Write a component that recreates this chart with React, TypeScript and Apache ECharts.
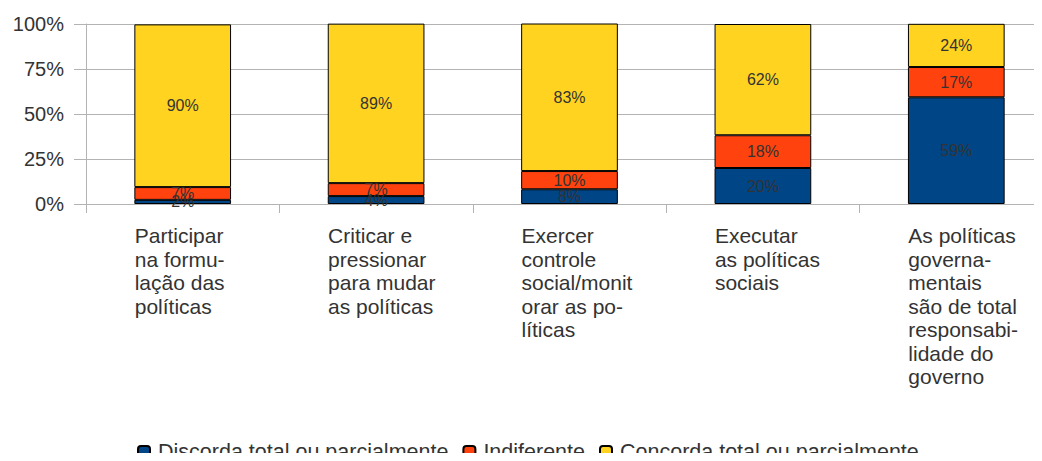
import React, { useEffect, useRef } from "react";
import * as echarts from "echarts";

const categories = [
  "Participar\nna formu-\nlação das\npolíticas",
  "Criticar e\npressionar\npara mudar\nas políticas",
  "Exercer\ncontrole\nsocial/monit\norar as po-\nlíticas",
  "Executar\nas políticas\nsociais",
  "As políticas\ngoverna-\nmentais\nsão de total\nresponsabi-\nlidade do\ngoverno",
];
const seriesNames = ["Discorda total ou parcialmente", "Indiferente", "Concorda total ou parcialmente"];
const discorda = [2.3, 4.4, 8.2, 20, 59.3];
const indiferente = [7.1, 7.2, 10.1, 18.2, 16.8];
const concorda = [90.4, 88.6, 82.5, 61.8, 24];
const yTicks = [0, 25, 50, 75, 100];
const colors = ["#004586", "#ff420e", "#ffd320"];

export default function App() {
  const ref = useRef<HTMLDivElement>(null);
  useEffect(() => {
    if (!ref.current) return;
    const chart = echarts.init(ref.current, undefined, { renderer: "svg" });
    const font = "'Liberation Sans', Arial, sans-serif";
    const values = [discorda, indiferente, concorda];
    chart.setOption({
      animation: false,
      textStyle: { fontFamily: font },
      grid: {
        left: 86,
        width: 967,
        top: 24,
        height: 180,
        containLabel: false,
        outerBoundsMode: "none",
      },
      legend: {
        data: seriesNames,
        left: 137,
        top: 441,
        padding: 0,
        itemWidth: 12,
        itemHeight: 12,
        itemGap: 14,
        textStyle: { fontSize: 21.5, color: "#333333", fontFamily: font, padding: [0, 0, 0, 3] },
      },
      xAxis: {
        type: "category",
        data: categories,
        boundaryGap: true,
        axisLine: { lineStyle: { color: "#b3b3b3" } },
        axisTick: { show: true, length: 9, lineStyle: { color: "#b3b3b3" } },
        axisLabel: {
          interval: 0,
          margin: 20,
          align: "center",
          formatter: (v: string) => v.split("\n").map((l) => "{a|" + l + "}").join("\n"),
          rich: {
            a: {
              width: 96,
              align: "left",
              fontSize: 21,
              lineHeight: 23.5,
              color: "#333333",
              fontFamily: font,
            },
          },
        },
      },
      yAxis: {
        type: "value",
        min: 0,
        max: 100,
        interval: 25,
        axisLine: { show: true, lineStyle: { color: "#b3b3b3" } },
        axisTick: { show: true, length: 12, lineStyle: { color: "#b3b3b3" } },
        splitLine: { show: true, lineStyle: { color: "#b3b3b3" } },
        axisLabel: {
          margin: 22,
          fontSize: 20,
          color: "#333333",
          fontFamily: font,
          formatter: (v: number) => (yTicks.includes(v) ? v + "%" : ""),
        },
      },
      series: seriesNames.map((name, i) => ({
        name,
        type: "bar",
        stack: "total",
        barWidth: "50%",
        data: values[i],
        itemStyle: { color: colors[i], borderColor: "#000000", borderWidth: 1 },
        label: {
          show: true,
          position: "inside",
          fontSize: 16,
          color: "#333333",
          fontFamily: font,
          formatter: (p: any) => Math.round(p.value) + "%",
        },
      })),
    });
    return () => chart.dispose();
  }, []);
  return <div ref={ref} style={{ width: 1042, height: 461, margin: -8 }} />;
}
